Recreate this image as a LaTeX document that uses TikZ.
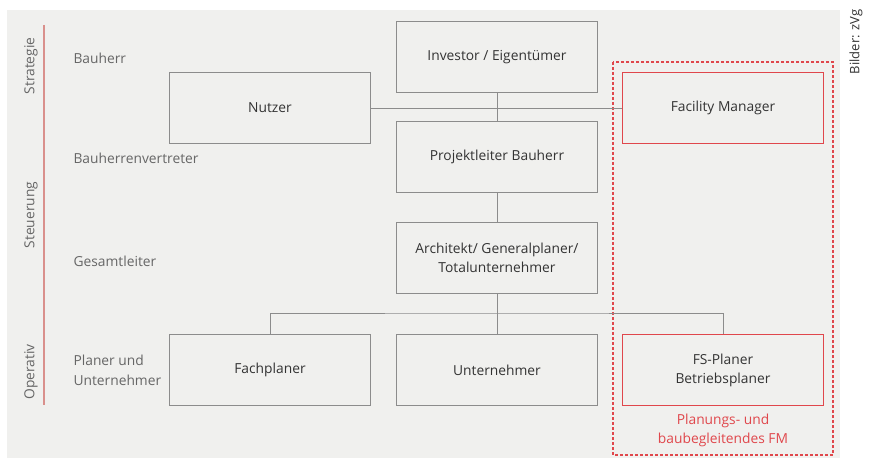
\documentclass[tikz,border=0pt]{standalone}
\usepackage{fontspec}
\setmainfont{Open Sans}
\usetikzlibrary{positioning}

\definecolor{bggray}{HTML}{F0F0EE}
\definecolor{boxline}{HTML}{8C8C8C}
\definecolor{txtdark}{HTML}{333333}
\definecolor{txtside}{HTML}{666666}
\definecolor{fmred}{HTML}{E0474C}
\definecolor{barred}{HTML}{D9908C}

\begin{document}
\begin{tikzpicture}[x=1pt, y=-1pt]
      % Node style
      \tikzset{
        orgbox/.style={draw=boxline, fill=bggray, line width=0.9pt, minimum width=201pt,
          minimum height=71pt, align=center, text=txtdark, font=\fontsize{13.8}{19}\selectfont},
        fmbox/.style={orgbox, draw=fmred},
        levellabel/.style={anchor=west, align=left, text=txtside, font=\fontsize{13.8}{20}\selectfont},
        phase/.style={rotate=90, text=txtside, font=\fontsize{13.8}{15}\selectfont},
        link/.style={draw=boxline, line width=0.9pt},
        fmarea/.style={draw=fmred, dash pattern=on 3pt off 2pt, line width=1.2pt},
      }
      \useasboundingbox (0,0) rectangle (870,470);
      \fill[bggray] (7,10) rectangle (840,458);
      % Phases
      \draw[barred, line width=1.2pt] (44,25) -- (44,405);
      \node (strategie) [phase] at (31,66) {Strategie};
      \node (steuerung) [phase] at (31,215) {Steuerung};
      \node (operativ) [phase] at (31,372) {Operativ};
      \node (credit) [rotate=90, text=txtdark, font=\fontsize{13}{15}\selectfont] at (856,42) {Bilder: zVg};
      % Levels
      \node (bauherr) [levellabel] at (70,58) {Bauherr};
      \node (vertreter) [levellabel] at (70,158) {Bauherrenvertreter};
      \node (gesamt) [levellabel] at (70,261) {Gesamtleiter};
      \node (planer) [levellabel] at (70,370) {Planer und\\Unternehmer};
      % FM area
      \path[fmarea] (613,62) rectangle (833,455);
      \node (fmnote) [text=fmred, align=center, font=\fontsize{13.8}{19}\selectfont] at (723,430) {Planungs- und\\baubegleitendes FM};
      % Nodes
      \node (investor) [orgbox] at (497,57) {Investor / Eigentümer};
      \node (nutzer) [orgbox] at (270,108) {Nutzer};
      \node (fm) [fmbox] at (723,108) {Facility Manager};
      \node (projekt) [orgbox] at (497,157) {Projektleiter Bauherr};
      \node (architekt) [orgbox] at (497,258) {Architekt/ Generalplaner/\\Totalunternehmer};
      \node (fachplaner) [orgbox] at (270,370) {Fachplaner};
      \node (unternehmer) [orgbox] at (497,370) {Unternehmer};
      \node (fsplaner) [fmbox] at (723,370) {FS-Planer\\Betriebsplaner};
      \coordinate (split) at (497,313);
      % Lines
      \draw[link] (nutzer) -- (fm);
      \draw[link] (investor) -- (projekt);
      \draw[link] (projekt) -- (architekt);
      \draw[link] (architekt) -- (unternehmer);
      \draw[link] (fachplaner.north) |- (split) -| (fsplaner.north);
    \end{tikzpicture}
\end{document}
